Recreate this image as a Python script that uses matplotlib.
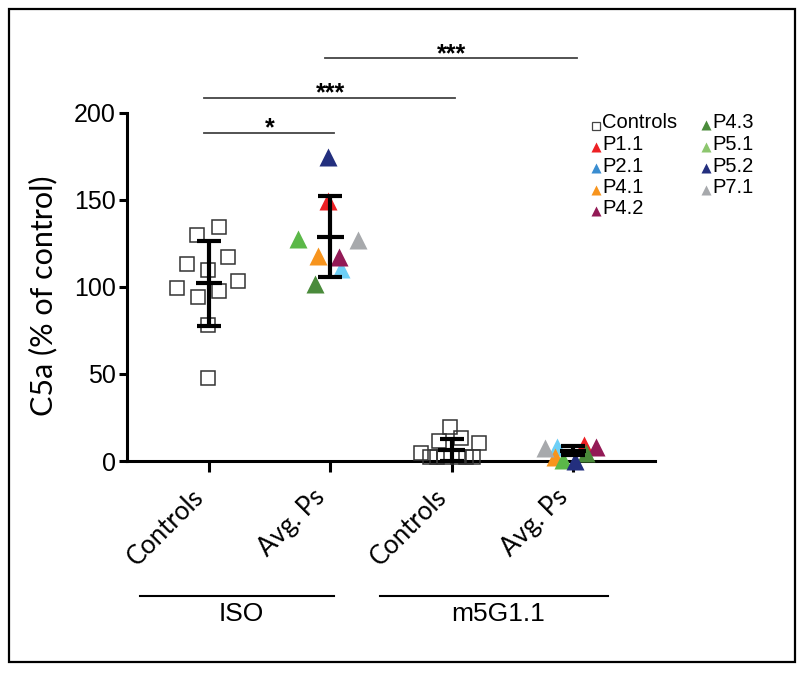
import matplotlib
matplotlib.use('Agg')
import matplotlib.pyplot as plt
from matplotlib.lines import Line2D
from matplotlib.patches import Rectangle

# Данные
tick_labels = ['Controls', 'Avg. Ps', 'Controls', 'Avg. Ps']
treatments = ['ISO', 'm5G1.1']

iso_ctrl = [134.2, 129.8, 117.0, 113.4, 109.4, 103.3, 99.1, 94.1, 97.4, 78.1, 47.5]
iso_ctrl_dx = [0.08, -0.10, 0.16, -0.18, -0.01, 0.24, -0.26, -0.09, 0.08, -0.01, -0.01]
m5_ctrl = [19.6, 11.6, 13.3, 10.5, 4.4, 2.5, 2.5, 2.5, 2.5, 2.5, 2.5]
m5_ctrl_dx = [-0.01, -0.10, 0.08, 0.23, -0.25, -0.18, -0.12, -0.06, 0.05, 0.12, 0.18]

patients = ['P1.1', 'P2.1', 'P4.1', 'P4.2', 'P4.3', 'P5.1', 'P5.2', 'P7.1']
iso_pat = [149.5, 110.4, 117.6, 117.0, 101.4, 127.5, 174.3, 127.0]
iso_pat_dx = [-0.02, 0.09, -0.10, 0.07, -0.13, -0.27, -0.02, 0.23]
m5_pat = [9.2, 8.2, 2.5, 7.8, 4.8, 0.5, 0.2, 7.3]
m5_pat_dx = [0.09, -0.13, -0.15, 0.19, 0.11, -0.08, 0.02, -0.23]

# среднее и SD, как нарисовано
means = [102.1, 128.9, 6.3, 5.8]
sds = [24.3, 23.2, 6.3, 2.6]

# значимость: (группа1, группа2, звёзды)
sig = [(0, 1, '*'), (0, 2, '***'), (1, 3, '***')]

# цвета
plot_colors = ['#ed2024', '#6dcff6', '#f7941d', '#931a56', '#4a8b3b', '#5bb848', '#232f7e', '#a7a9ac']
legend_colors = ['#ed2024', '#3a8dd0', '#f7941d', '#931a56', '#4a8b3b', '#8cc66e', '#232f7e', '#a7a9ac']

fig = plt.figure(figsize=(8, 6.73), dpi=100)
ax = fig.add_axes([0.15875, 0.315, 0.66, 0.5175])

# контроли - пустые квадраты
for x0, vals, dxs in [(0, iso_ctrl, iso_ctrl_dx), (2, m5_ctrl, m5_ctrl_dx)]:
    for v, d in zip(vals, dxs):
        ax.plot(x0 + d, v, marker='s', ms=10, mfc='none', mec='#333333', mew=1.1,
                linestyle='none', clip_on=False, zorder=3)

# пациенты - треугольники
for x0, vals, dxs in [(1, iso_pat, iso_pat_dx), (3, m5_pat, m5_pat_dx)]:
    for v, d, c in zip(vals, dxs, plot_colors):
        ax.plot(x0 + d, v, marker='^', ms=12.5, color=c, mec='none',
                linestyle='none', clip_on=False, zorder=4)

# среднее +- SD
for i, (m, s) in enumerate(zip(means, sds)):
    ax.errorbar(i, m, yerr=s, fmt='none', ecolor='black', elinewidth=3,
                capsize=8.3, capthick=3, zorder=6, clip_on=False)
    ax.plot([i - 0.11, i + 0.11], [m, m], color='black', lw=3, zorder=6,
            solid_capstyle='butt', clip_on=False)

# оси
ax.set_xlim(-0.676, 3.677)
ax.set_ylim(0, 200)
ax.set_yticks([0, 50, 100, 150, 200])
ax.set_xticks(range(4))
ax.set_xticklabels(tick_labels, rotation=45, ha='right', va='top',
                   rotation_mode='default', fontsize=18.5, family='Lato')
ax.tick_params(axis='y', labelsize=18, length=6, width=2.2, pad=2)
ax.tick_params(axis='x', length=8, width=2.2, pad=9)
for lab in ax.get_yticklabels():
    lab.set_family('Liberation Sans')
for sp in ['top', 'right']:
    ax.spines[sp].set_visible(False)
for sp in ['left', 'bottom']:
    ax.spines[sp].set_linewidth(2.2)
ax.set_ylabel('C5a (% of control)', fontsize=22, family='Lato')
ax.yaxis.set_label_coords(-0.131, 0.474)

# линии значимости
sig_y = [188.5, 208.6, 231.5]
for (a, b, txt), y in zip(sig, sig_y):
    ax.plot([a - 0.04, b + 0.03], [y, y], color='#444444', lw=1.3, clip_on=False)
    ax.annotate(txt, ((a + b) / 2, y), xytext=(0, -2.2), textcoords='offset points',
                ha='center', va='baseline', fontsize=18, fontweight='bold',
                family='Liberation Sans', annotation_clip=False)

# подписи групп
fy = 1 - 595.5 / 673
for (x0, x1), name in zip([(139.5, 334), (379.5, 607.7)], treatments):
    fig.add_artist(Line2D([x0 / 800, x1 / 800], [fy, fy], transform=fig.transFigure,
                          color='black', lw=1.5))
    fig.text((x0 + x1) / 2 / 800 + 0.005, 1 - 614 / 673, name, ha='center', va='center',
             fontsize=19, family='Liberation Sans')

# легенда (вручную, в пикселях рисунка)
leg_names = ['Controls'] + patients
leg_pos = [(596, 123), (596, 144.5), (596, 166), (596, 187.5), (596, 209),
           (706, 123), (706, 144.5), (706, 166), (706, 187.5)]
for k, (name, (px, py)) in enumerate(zip(leg_names, leg_pos)):
    fx, fyy = px / 800, 1 - py / 673
    if k == 0:
        fig.add_artist(Line2D([fx], [fyy - 0.004], marker='s', ms=5.5, mfc='none', mec='#444444',
                              mew=0.9, transform=fig.transFigure))
    else:
        fig.add_artist(Line2D([fx], [fyy - 0.003], marker='^', ms=7, color=legend_colors[k - 1],
                              mec='none', transform=fig.transFigure))
    fig.text(fx + 6 / 800, fyy, name, ha='left', va='center', fontsize=14.5,
             family='Liberation Sans')

# рамка вокруг рисунка
fig.add_artist(Rectangle((0.011, 0.016), 0.983, 0.971, transform=fig.transFigure,
                         fill=False, edgecolor='black', lw=1.6))

fig.savefig('out.png', dpi=100)
